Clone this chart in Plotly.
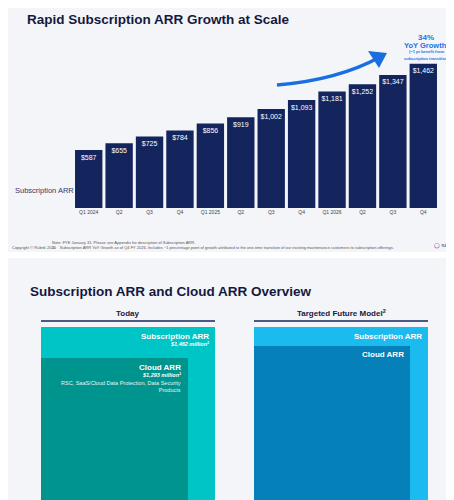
import plotly.graph_objects as go

quarters = ["Q1 2024","Q2","Q3","Q4","Q1 2025","Q2 ","Q3 ","Q4 ","Q1 2026","Q2  ","Q3  ","Q4  "]
tick_labels = ["Q1 2024","Q2","Q3","Q4","Q1 2025","Q2","Q3","Q4","Q1 2026","Q2","Q3","Q4"]
sub_arr = [587,655,725,784,856,919,1002,1093,1181,1252,1347,1462]
bar_labels = ["$587","$655","$725","$784","$856","$919","$1,002","$1,093","$1,181","$1,252","$1,347","$1,462"]

W, H = 454, 500
def X(x): return x / W
def Y(y): return 1 - y / H

BG = "#f4f5f8"
NAVY = "#14255e"
fig = go.Figure(go.Bar(
    x=quarters, y=sub_arr, marker_color=NAVY, marker_line_width=0,
    text=bar_labels, textposition="inside", insidetextanchor="end", textangle=0,
    textfont=dict(color="white", size=7.5, family="Liberation Sans"),
    cliponaxis=False, hoverinfo="skip", width=0.9))

shapes = []
shapes.append(dict(type="rect", xref="paper", yref="paper", x0=0, x1=1, y0=Y(250), y1=Y(244),
                   fillcolor="white", line_width=0, layer="below"))
shapes.append(dict(type="path", xref="paper", yref="paper",
                   path=f"M {X(269)},{Y(77)} Q {X(330)},{Y(72)} {X(372)},{Y(49)}",
                   line=dict(color="#1a6fe0", width=3.5)))
shapes.append(dict(type="path", xref="paper", yref="paper",
                   path=f"M {X(360)},{Y(43)} L {X(379)},{Y(45)} L {X(371)},{Y(60)} Z",
                   fillcolor="#1a6fe0", line_width=0))
def rect(x0, y0, x1, y1, color):
    shapes.append(dict(type="rect", xref="paper", yref="paper", x0=X(x0), x1=X(x1),
                       y0=Y(y1), y1=Y(y0), fillcolor=color, line_width=0))
def line(x0, x1, y):
    shapes.append(dict(type="line", xref="paper", yref="paper", x0=X(x0), x1=X(x1),
                       y0=Y(y), y1=Y(y), line=dict(color=NAVY, width=1.5)))
line(33, 207, 313); line(246, 420, 313)
rect(33, 319, 207, 494, "#00c5c6")
rect(33, 350, 180, 494, "#00948f")
rect(246, 319, 420, 494, "#1bbbef")
rect(246, 338, 402, 494, "#0580b8")

ann = []
def t(x, y, s, size, color="white", anchor="left", bold=False, italic=False, fam="Liberation Sans"):
    if bold: s = f"<b>{s}</b>"
    if italic: s = f"<i>{s}</i>"
    ann.append(dict(xref="paper", yref="paper", x=X(x), y=Y(y), text=s, showarrow=False,
                    xanchor=anchor, yanchor="middle", font=dict(size=size, color=color, family=fam)))

t(17, 11, "Rapid Subscription ARR Growth at Scale", 13.5, "#14193f", bold=True)
t(5, 182, "Subscription ARR", 7.5, "#2b3a73")
t(418, 29, "34%", 8, "#1a73e8", "center", bold=True)
t(418, 37, "YoY Growth<sup>1</sup>", 7.5, "#1a73e8", "center", bold=True)
t(418, 44, "(~1 pt benefit from", 4, "#1a73e8", "center", bold=True)
t(418, 51, "subscription transition)", 4, "#1a73e8", "center", bold=True)
t(42, 234, "Note: FYE January 31. Please see Appendix for description of Subscription ARR.", 4, "#555")
t(42, 239, "1.    Subscription ARR YoY Growth as of Q4 FY 2026. Includes ~1 percentage point of growth attributed to the one-time transition of our existing maintenance customers to subscription offerings.", 4, "#555")
t(2, 239, "Copyright © Rubrik 2026", 4, "#555")
t(452, 237, "◯ rubrik  |", 5, "#14255e", anchor="right")

t(20, 283, "Subscription ARR and Cloud ARR Overview", 13.5, "#14193f", bold=True)
t(120, 305, "Today", 8, "#14193f", "center", bold=True)
t(333, 305, "Targeted Future Model<sup>2</sup>", 8, "#14193f", "center", bold=True)
t(203, 328, "Subscription ARR", 8, anchor="right", bold=True)
t(203, 336, "$1,462 million<sup>1</sup>", 5.5, anchor="right", bold=True, italic=True)
t(175, 359, "Cloud ARR", 8, anchor="right", bold=True)
t(175, 367, "$1,293 million<sup>1</sup>", 5.5, anchor="right", bold=True, italic=True)
ann.append(dict(xref="paper", yref="paper", x=X(175), y=Y(378), showarrow=False, xanchor="right",
                yanchor="middle", align="right",
                text="RSC, SaaS/Cloud Data Protection, Data Security<br>Products",
                font=dict(size=5.5, color="#e6f4f3", family="Liberation Sans")))
t(416, 328, "Subscription ARR", 8, anchor="right", bold=True)
t(398, 346, "Cloud ARR", 8, anchor="right", bold=True)
t(44, 496.5, "Note: FYE January 31. Please see Appendix for description of Subscription ARR and Cloud ARR.", 4, "#555")

fig.update_layout(
    width=W, height=H, margin=dict(l=0, r=0, t=0, b=0),
    paper_bgcolor=BG, plot_bgcolor=BG, showlegend=False,
    bargap=0.08, shapes=shapes, annotations=ann,
    xaxis=dict(domain=[X(65.5), X(430.5)], tickvals=quarters, ticktext=tick_labels,
               tickfont=dict(size=5, color="#444", family="Liberation Sans"),
               showgrid=False, showline=False, ticks="", fixedrange=True),
    yaxis=dict(domain=[Y(200), Y(42)], range=[0, 1600], visible=False, fixedrange=True),
    uniformtext=dict(minsize=5, mode="show"),
)
fig.write_html("out.html")
